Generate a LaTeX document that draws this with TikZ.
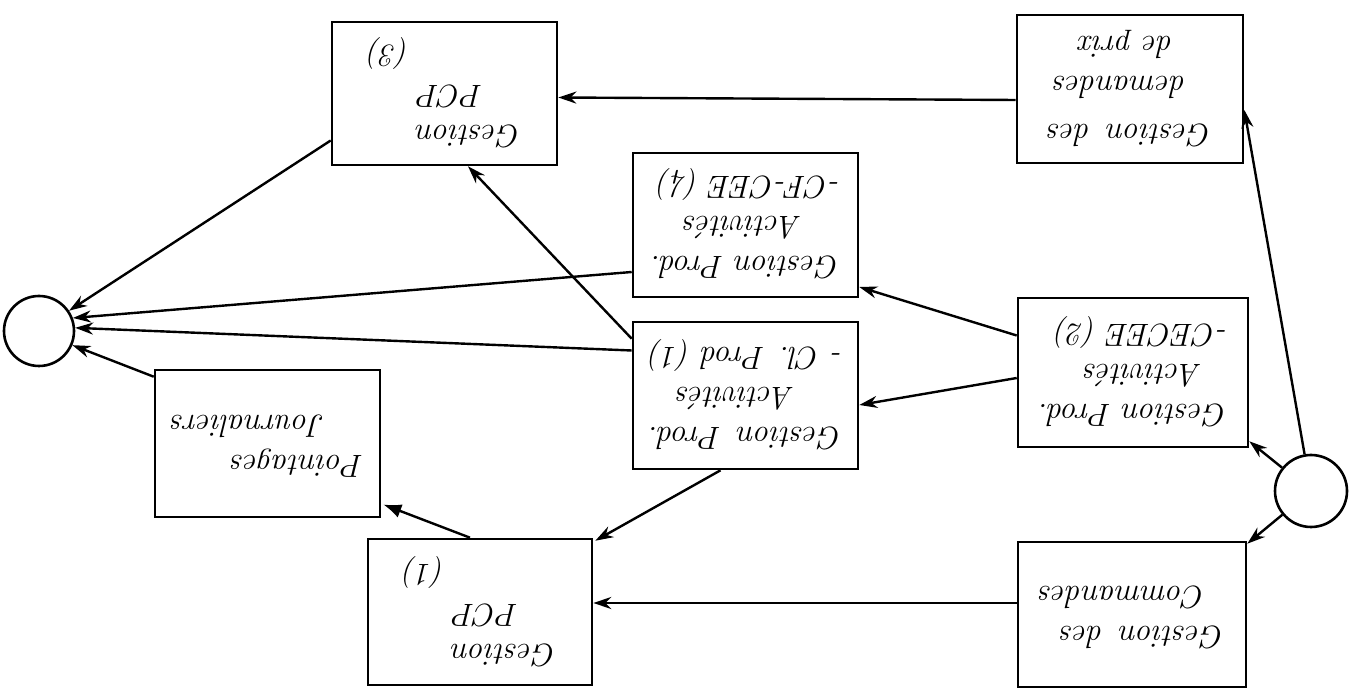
\documentclass[tikz,border=0pt]{standalone}
\usepackage{graphicx}
\usetikzlibrary{arrows.meta,calc}
\newcommand{\flipped}[1]{\rotatebox[origin=c]{180}{\begin{tabular}{@{}l@{}}#1\end{tabular}}}
\begin{document}
\begin{tikzpicture}[x=0.5pt,y=-0.5pt,
  box/.style={draw,line width=1.3pt,rectangle,inner sep=0pt,
    font=\fontsize{16}{20}\selectfont\itshape},
  circ/.style={draw,line width=1.3pt,circle,inner sep=0pt},
  conn/.style={line width=1.2pt,-{Stealth[length=9pt,width=6pt]}},
  fconn/.style={line width=1.2pt,-{Latex[length=9pt,width=7pt]}}]
\useasboundingbox (0,0) rectangle (1354,699);
% boxes
\node[box,minimum width=112.5pt,minimum height=71.5pt] (pcp3) at (444.5,93.5)
  {\flipped{Gestion\\\hspace*{1.2em}PCP\\\hspace*{3.5em}(3)}};
\node[box,minimum width=112.5pt,minimum height=72pt] (act4) at (745.5,225)
  {\flipped{Gestion Prod.\\\hspace*{1.2em}Activités\\-CF-CEE (4)}};
\node[box,minimum width=112.5pt,minimum height=73.5pt] (act1) at (745.5,395.5)
  {\flipped{Gestion\enspace Prod.\\\hspace*{1.5em}Activités\\- Cl. Prod (1)}};
\node[box,minimum width=113pt,minimum height=74pt] (dprix) at (1130,89)
  {\flipped{Gestion\enspace des\\[4pt]\hspace*{0.8em}demandes\\\hspace*{1.2em}de prix}};
\node[box,minimum width=115pt,minimum height=74.5pt] (act2) at (1133,372.5)
  {\flipped{Gestion Prod.\\\hspace*{0.8em}Activités\\-CECEE (2)}};
\node[box,minimum width=114pt,minimum height=72.5pt] (cmd) at (1132,614.5)
  {\flipped{Gestion\enspace des\\\hspace*{0.6em}Commandes}};
\node[box,minimum width=112pt,minimum height=73pt] (pcp1) at (480,612)
  {\flipped{Gestion\\\hspace*{1.2em}PCP\\\hspace*{3.5em}(1)}};
\node[box,minimum width=112.5pt,minimum height=73.5pt] (point) at (267.5,443.5)
  {\flipped{Pointages\\\hspace*{1.2em}Journaliers}};
% circles
\node[circ,minimum size=35pt] (cl) at (39,331) {};
\node[circ,minimum size=36pt] (cr) at (1311,491) {};
% connectors
\draw[conn] (cr) -- ($(dprix.east)+(0,21)$);
\draw[conn] (cr) -- ($(act2.south east)+(0,-7)$);
\draw[conn] (cr) -- ($(cmd.north east)+(0,3)$);
\draw[conn] ($(dprix.west)+(0,11)$) -- ($(pcp3.east)+(0,4)$);
\draw[conn] ($(act2.west)+(0,-37)$) -- ($(act4.east)+(0,62)$);
\draw[conn] ($(act2.west)+(0,5.5)$) -- ($(act1.east)+(0,9.5)$);
\draw[conn] ($(cmd.west)+(0,-11.5)$) -- ($(pcp1.east)+(0,-9)$);
\draw[conn] ($(act1.north west)+(0,18)$) -- ($(pcp3.south)+(23.5,0)$);
\draw[conn] ($(pcp3.west)+(0,47)$) -- (cl.34);
\draw[conn] ($(act4.west)+(0,47)$) -- (cl.21);
\draw[conn] ($(act1.west)+(0,-45)$) -- (cl.5);
\draw[conn] ($(point.north west)+(0,8)$) -- (cl.-23);
\draw[conn] ($(act1.south)+(-25,0)$) -- ($(pcp1.north east)+(2,3)$);
\draw[fconn] ($(pcp1.north)+(-10,0)$) -- ($(point.east)+(2,61)$);
\end{tikzpicture}
\end{document}
